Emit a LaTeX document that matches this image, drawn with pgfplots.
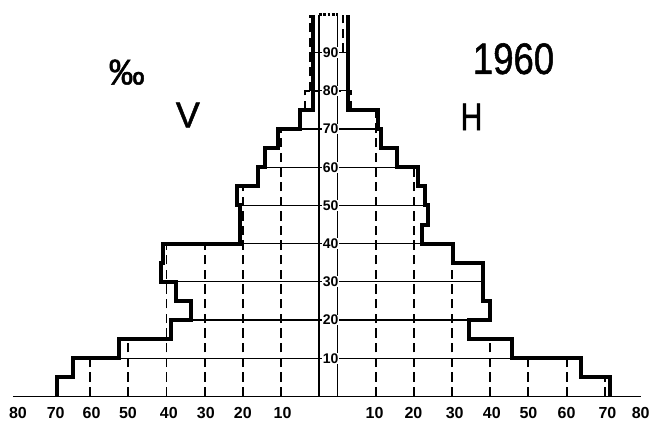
\documentclass[border=0pt]{standalone}
\usepackage{fontspec}
\setmainfont{Liberation Sans}
\newfontfamily\heavy[FakeBold=1.3]{Liberation Sans}
\usepackage{pgfplots}
\pgfplotsset{compat=1.18}
\begin{document}
\begin{tikzpicture}
\begin{axis}[
  hide axis, scale only axis,
  width=490.5pt, height=317.25pt,
  xmin=-86.0, xmax=85.2, ymin=-6.9, ymax=103.8,
  clip=false, unbounded coords=jump,
  gridd/.style={black, line width=1.4pt, dash pattern=on 7pt off 4pt},
  gridh/.style={black, line width=0.9pt},
]
% invisible frame for bounding box
\addplot[draw=none, forget plot] coordinates {(-86.0,-6.9)(85.2,103.8)};
% baseline
\addplot[black, line width=1pt] coordinates {(-82.6,0)(82.0,0)};
% dashed vertical grid (left, right)
\addplot[gridd] coordinates {(-12.4,0)(-12.4,70)(nan,nan)(-22.4,0)(-22.4,55)(nan,nan)(-32.4,0)(-32.4,40)(nan,nan)(-42.4,0)(-42.4,40)(nan,nan)(-52.4,0)(-52.4,15)(nan,nan)(-62.4,0)(-62.4,10)};
\addplot[gridd] coordinates {(12.4,0)(12.4,75)(nan,nan)(22.4,0)(22.4,60)(nan,nan)(32.4,0)(32.4,40)(nan,nan)(42.4,0)(42.4,15)(nan,nan)(52.4,0)(52.4,10)(nan,nan)(62.4,0)(62.4,10)(nan,nan)(72.4,0)(72.4,5)};
% horizontal grid
\addplot[gridh] coordinates {(-54.9,10)(48.2,10)(nan,nan)(-36.0,20)(36.8,20)(nan,nan)(-39.9,30)(40.5,30)(nan,nan)(-23.2,40)(24.5,40)(nan,nan)(-23.2,50)(25.2,50)(nan,nan)(-16.6,60)(18.1,60)(nan,nan)(-7.5,70)(13.0,70)(nan,nan)(-4.0,80)(5.1,80)(nan,nan)(-4.0,90)(5.1,90)};
% age strip
\addplot[black, line width=1.2pt] coordinates {(-2.4,0)(-2.4,100)(nan,nan)(2.4,0)(2.4,100)};
% dashed top parts
\addplot[gridd] coordinates {(-6.2,75)(-6.2,80)(-2.4,80)(nan,nan)(-4.7,80)(-4.7,100)};
\addplot[gridd] coordinates {(6.0,75)(6.0,80)(2.4,80)(nan,nan)(3.8,90)(3.8,100)};
\addplot[black, line width=2.2pt, dash pattern=on 2pt off 1.2pt] coordinates {(-2.4,100)(2.4,100)};
% outline left (V)
\addplot[black, line width=3pt, line join=miter] coordinates {(-71.0,0)(-71.0,5)(-66.8,5)(-66.8,10)(-54.9,10)(-54.9,15)(-41.3,15)(-41.3,20)(-36.0,20)(-36.0,25)(-39.9,25)(-39.9,30)(-43.9,30)(-43.9,35)(-43.2,35)(-43.2,40)(-23.2,40)(-23.2,50)(-23.9,50)(-23.9,55)(-18.5,55)(-18.5,60)(-16.6,60)(-16.6,65)(-13.2,65)(-13.2,70)(-7.5,70)(-7.5,75)(-4.0,75)(-4.0,100)};
% outline right (H)
\addplot[black, line width=3pt, line join=miter] coordinates {(73.7,0)(73.7,5)(66.2,5)(66.2,10)(48.2,10)(48.2,15)(36.8,15)(36.8,20)(42.3,20)(42.3,25)(40.5,25)(40.5,35)(32.6,35)(32.6,40)(24.5,40)(24.5,45)(26.1,45)(26.1,50)(25.2,50)(25.2,55)(23.5,55)(23.5,60)(18.1,60)(18.1,65)(13.7,65)(13.7,70)(13.0,70)(13.0,75)(5.1,75)(5.1,100)};
% age labels
\foreach \a in {10,20,...,90} {
  \edef\tmp{\noexpand\node[fill=white, inner sep=0.3pt, font=\noexpand\fontsize{10.5}{10.5}\noexpand\selectfont\noexpand\bfseries] at (axis cs:0.6,\a) {\a};}
  \tmp
}
% x tick labels
\foreach \xx/\lab in {-81.3/80,-71.4/70,-62.0/60,-52.5/50,-41.8/40,-32.1/30,-22.4/20,-12.0/10,12.1/10,22.3/20,33.1/30,42.8/40,52.4/50,62.4/60,73.1/70,81.8/80} {
  \edef\tmp{\noexpand\node[font=\noexpand\fontsize{12}{12}\noexpand\selectfont\noexpand\bfseries] at (axis cs:\xx,-4.3) {\lab};}
  \tmp
}
\node[font=\heavy\fontsize{27}{27}\selectfont] at (axis cs:-52.8,84.9) {‰};
\node[font=\heavy\fontsize{27}{27}\selectfont] at (axis cs:-36.8,73.7) {V};
\node[font=\heavy\fontsize{29}{29}\selectfont, xscale=0.78] at (axis cs:37.5,73.2) {H};
\node[font=\heavy\fontsize{33}{33}\selectfont, xscale=0.83] at (axis cs:48.5,88.4) {1960};
\end{axis}
\end{tikzpicture}
\end{document}
